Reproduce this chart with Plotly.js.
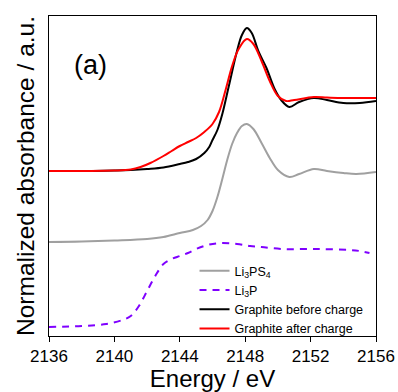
<!DOCTYPE html>
<html><head><meta charset="utf-8">
<script src="https://cdn.plot.ly/plotly-3.0.1.min.js"></script>
<style>html,body{margin:0;padding:0;background:#fff;}#plot{width:398px;height:392px;}</style>
</head><body><div id="plot"></div>
<script>
// Energy (eV) and normalized absorbance (a.u., offset stacked)
const blackE = [2136,2138,2140,2141,2142,2143,2144,2144.5,2145,2145.5,2145.8,2146,2146.3,2146.6,2147,2147.5,2147.8,2148.1,2148.4,2148.8,2149.3,2149.8,2150.2,2150.7,2151.3,2152.2,2153,2154,2155,2156];
const blackY = [165,165,165.5,166,167,168.5,172,174,177,183,189,196,206,222,250,285,301,308,303,285,268,247,236,229,234,238,236,233,233,235];
const redE = [2136,2140,2141,2141.6,2142.2,2143,2143.5,2144,2144.5,2145,2145.5,2146,2146.4,2146.8,2147.2,2147.6,2148.1,2148.5,2149,2149.5,2150,2150.5,2151,2152.2,2153,2154,2156];
const redY = [165,165.5,166.5,169,173,180,185,190,194,198,204,212,224,246,270,287,297,292,275,255,240,235,236,239,238.5,238,238];
const grayE = [2136,2138,2140,2142,2143,2144,2144.8,2145.3,2145.7,2146,2146.3,2146.6,2146.9,2147.2,2147.5,2147.8,2148.1,2148.5,2149,2149.5,2150,2150.7,2151.3,2152.2,2153,2154,2154.8,2156];
const grayY = [94,94.5,95.5,97,99,103,106,110,116,125,139,157,176,192,203,210,212,207,193,178,166,159,162,167,165,163,162,164];
const purpleE = [2136,2138,2139.5,2140.5,2141,2141.5,2142,2142.5,2143,2143.5,2144,2144.5,2145,2145.7,2146.5,2147.5,2148.3,2149,2150.3,2152.4,2154.4,2155,2155.6];
const purpleY = [9,10,12,16,20,30,45,60,72,77,80,83,87,91,93,92,90,89,87,87,86,85,83];
const names = ['Li<sub>3</sub>PS<sub>4</sub>','Li<sub>3</sub>P','Graphite before charge','Graphite after charge'];
const xTicks = [2136,2140,2144,2148,2152,2156];

const font = 'Liberation Sans, Arial, sans-serif';
const traces = [
  {x: grayE, y: grayY, name: names[0], mode: 'lines', line: {color: '#a0a0a0', width: 2, shape: 'spline', smoothing: 1}},
  {x: purpleE, y: purpleY, name: names[1], mode: 'lines', line: {color: '#7f00ff', width: 2, dash: '7px,6px', shape: 'spline', smoothing: 1}},
  {x: blackE, y: blackY, name: names[2], mode: 'lines', line: {color: '#000000', width: 2, shape: 'spline', smoothing: 1}},
  {x: redE, y: redY, name: names[3], mode: 'lines', line: {color: '#ff0000', width: 2, shape: 'spline', smoothing: 1}}
];
const layout = {
  width: 398, height: 392,
  margin: {l: 49, r: 22, t: 16, b: 56},
  paper_bgcolor: '#fff', plot_bgcolor: '#fff',
  font: {family: font, color: '#000'},
  showlegend: true,
  legend: {x: 0.445, y: 0.25, xanchor: 'left', yanchor: 'top', font: {family: font, size: 12.5, color: '#000'},
           bgcolor: 'rgba(0,0,0,0)', itemwidth: 30, traceorder: 'normal', tracegroupgap: 0},
  xaxis: {range: [2136, 2156], tickvals: xTicks, ticktext: xTicks.map(String), ticks: 'outside', ticklen: 5, tickwidth: 1,
          tickcolor: '#000', showline: true, linecolor: '#000', linewidth: 1, mirror: true, showgrid: false, zeroline: false,
          tickfont: {size: 17, family: font}, title: {text: 'Energy / eV', font: {size: 24, family: font}, standoff: 6}},
  yaxis: {range: [0, 320], showticklabels: false, ticks: '', showline: true, linecolor: '#000', linewidth: 1, mirror: true,
          showgrid: false, zeroline: false,
          title: {text: 'Normalized absorbance / a.u.', font: {size: 24.5, family: font}, standoff: 6}},
  annotations: [{text: '(a)', x: 0.128, y: 0.847, xref: 'paper', yref: 'paper', xanchor: 'center', yanchor: 'middle',
                 showarrow: false, font: {size: 27, family: font}}]
};
Plotly.newPlot('plot', traces, layout, {displayModeBar: false, staticPlot: true});
</script></body></html>
